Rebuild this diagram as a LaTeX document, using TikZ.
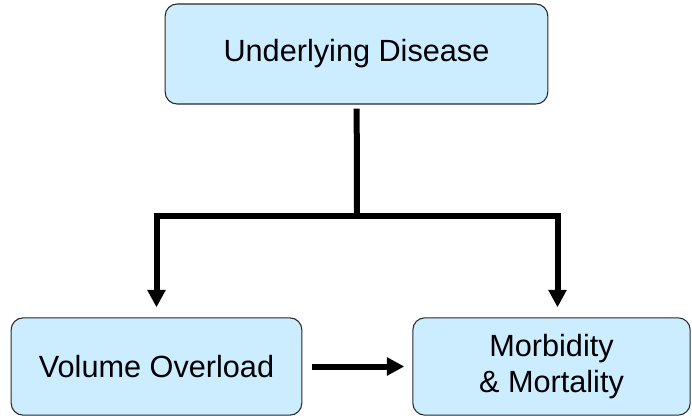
\documentclass[tikz,border=0pt]{standalone}
\usepackage{fontspec}
\setmainfont{Liberation Sans}
\usetikzlibrary{arrows.meta,positioning}
\definecolor{boxfill}{RGB}{204,236,255}
\definecolor{boxline}{RGB}{40,40,40}

\begin{document}
\begin{tikzpicture}[x=0.75pt,y=-0.75pt,
  block/.style={draw=boxline,line width=0.8pt,fill=boxfill,rectangle,rounded corners=9pt,
    align=center,inner sep=0pt,font=\fontsize{23}{27.5}\selectfont},
  link/.style={line width=4.5pt},
  flow/.style={link,-{Triangle[length=13pt,width=13pt]}}]

        \useasboundingbox (0,0) rectangle (692,416);

        \node (U) [block,minimum width=287pt,minimum height=75pt] at (356.5,54) {Underlying Disease};
        \node (V) [block,minimum width=218pt,minimum height=73pt] at (156.5,366.5) {Volume Overload};
        \node (M) [block,minimum width=208pt,minimum height=73pt] at (551.5,366.5) {Morbidity\\\& Mortality};

        \coordinate (S) at (357,216);
        \draw[link,shorten <=3pt] (U) -- (S);
        \draw[flow,shorten >=7.5pt] (S) -| (V);
        \draw[flow,shorten >=7.5pt] (S) -| ([xshift=4.5pt]M.north);
        \draw[flow,shorten <=7.5pt,shorten >=6pt] (V) -- (M);
\end{tikzpicture}
\end{document}
